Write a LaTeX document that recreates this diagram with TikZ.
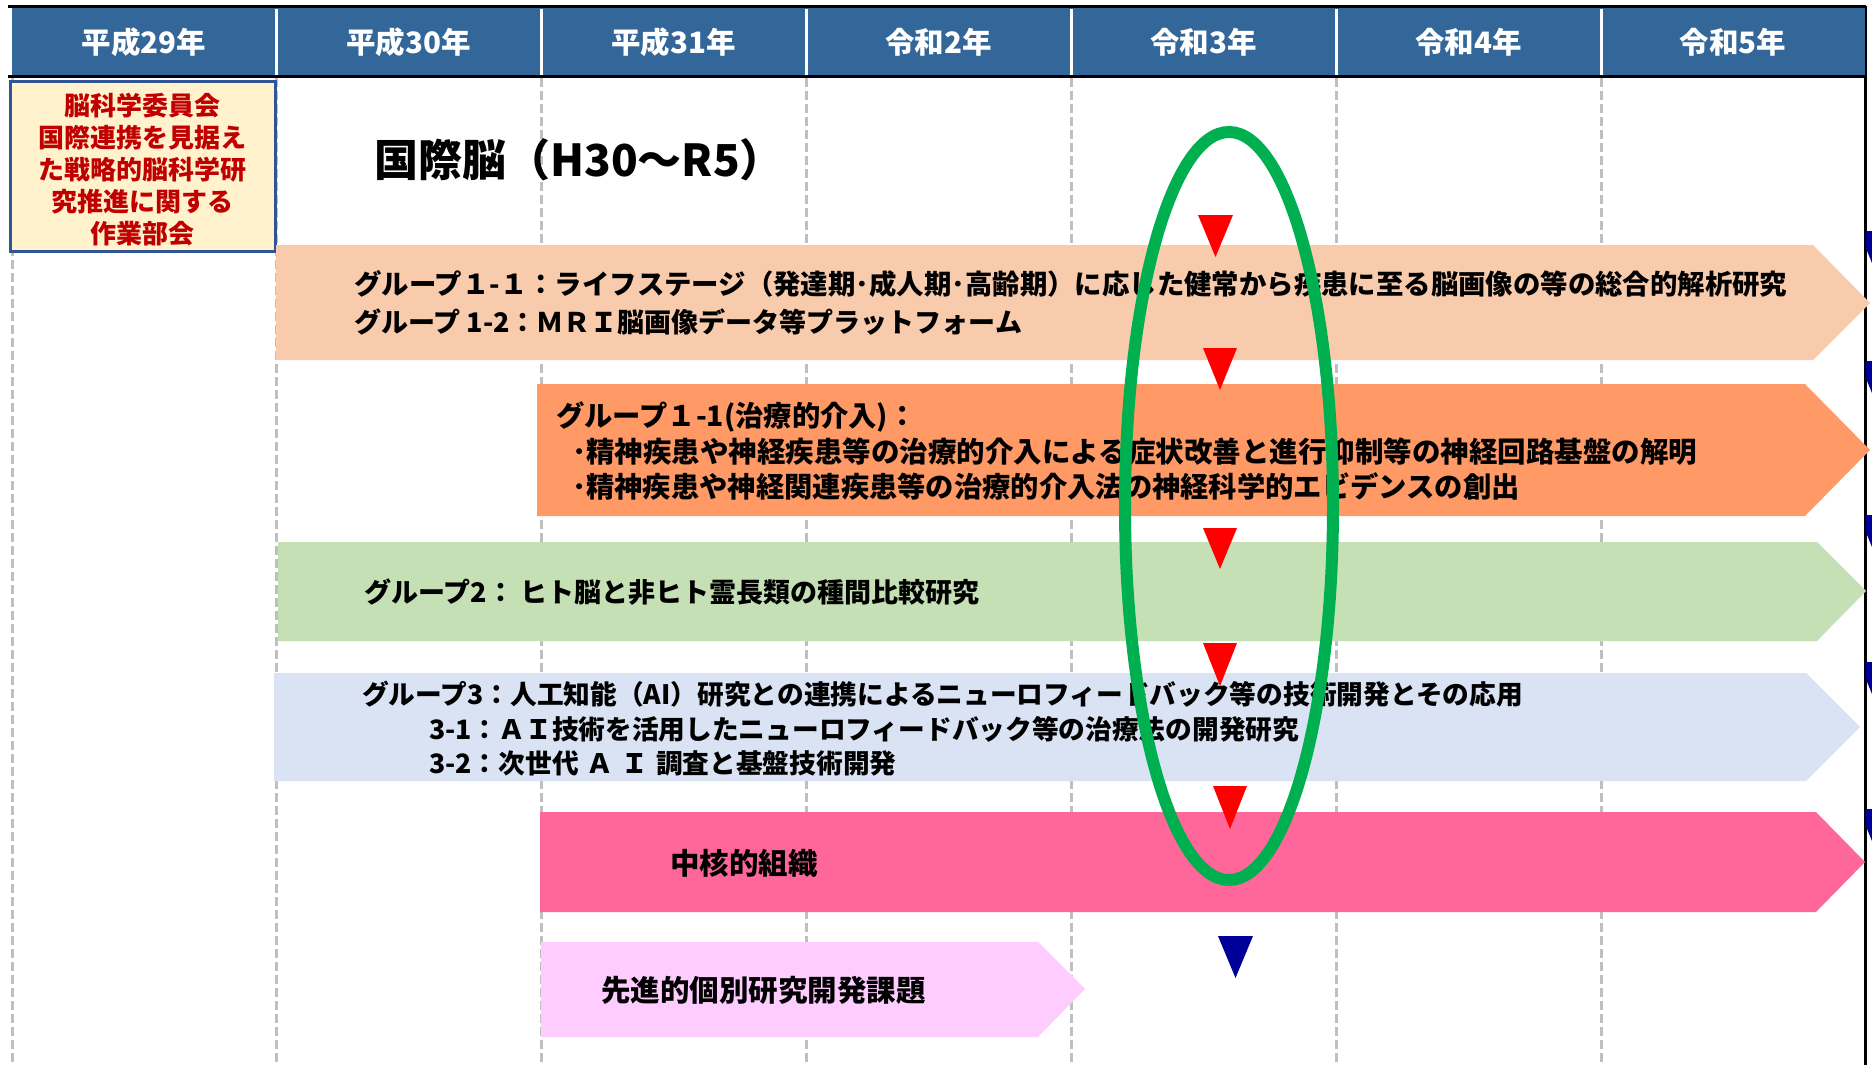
\documentclass[tikz,border=0pt]{standalone}
\usepackage{fontspec}
\setmainfont{Noto Sans CJK JP}
\definecolor{hdrblue}{HTML}{336699}
\definecolor{gridgray}{HTML}{BFBFBF}
\definecolor{boxblue}{HTML}{2F5597}
\definecolor{boxyellow}{HTML}{FFF2CC}
\definecolor{boxred}{HTML}{C00000}
\definecolor{cpeach}{HTML}{F8CBAD}
\definecolor{corange}{HTML}{FF9966}
\definecolor{cgreen}{HTML}{C5E0B4}
\definecolor{clblue}{HTML}{DAE3F3}
\definecolor{cpink}{HTML}{FF6699}
\definecolor{clpink}{HTML}{FFCCFF}
\definecolor{cnavy}{HTML}{000099}
\definecolor{cellipse}{HTML}{00B050}
\begin{document}
\begin{tikzpicture}[x=1pt,y=-1pt,
  hdr/.style={text=white,inner sep=0pt,font=\fontsize{29.5}{32}\selectfont\bfseries},
  bartext/.style={anchor=west,inner sep=0pt,font=\fontsize{27}{32}\selectfont\bfseries},
  gridline/.style={draw=gridgray,line width=3pt,dash pattern=on 9pt off 4pt},
  redtri/.style={fill=red},
  navytri/.style={fill=cnavy},
  boxtext/.style={inner sep=0pt,text=boxred,font=\fontsize{26}{32}\selectfont\bfseries},
]
\useasboundingbox (0,0) rectangle (1872,1065);
\fill[white] (0,0) rectangle (1872,1065);

% grid lines
\foreach \x in {12,276,541,806,1071,1336,1601}
  \draw[gridline] (\x,78) -- (\x,1065);

% right frame line
\draw[line width=3pt] (1865,6) -- (1865,1065);

% header
\fill[hdrblue] (12,8) rectangle (1865,76);
\draw[line width=3pt] (8,7) -- (1866,7);
\draw[line width=3pt] (8,77) -- (1866,77);
\foreach \x in {276,541,806,1071,1336,1601}
  \draw[white,line width=3pt] (\x,9) -- (\x,75);
\node[hdr] (h29) at (144,42) {平成29年};
\node[hdr] (h30) at (408.5,42) {平成30年};
\node[hdr] (h31) at (673.5,42) {平成31年};
\node[hdr] (r2) at (938.5,42) {令和2年};
\node[hdr] (r3) at (1203.5,42) {令和3年};
\node[hdr] (r4) at (1468.5,42) {令和4年};
\node[hdr] (r5) at (1733,42) {令和5年};

% committee box
\fill[boxyellow,draw=boxblue,line width=3pt] (10,82) rectangle (275,251);
\node[boxtext] (c1) at (142,106) {脳科学委員会};
\node[boxtext] (c2) at (142,138) {国際連携を見据え};
\node[boxtext] (c3) at (142,170) {た戦略的脳科学研};
\node[boxtext] (c4) at (142,202) {究推進に関する};
\node[boxtext] (c5) at (142,234) {作業部会};

% title
\node[anchor=west,inner sep=0pt,font=\fontsize{44}{48}\selectfont\bfseries] (title) at (374,160) {国際脳（H30～R5）};

% bars
\fill[cpeach] (276,245) -- (1813,245) -- (1870,303) -- (1813,360) -- (276,360) -- cycle;
\node[bartext,font=\fontsize{27.4}{32}\selectfont\bfseries] (g11) at (354,284) {グループ１-１：ライフステージ（発達期･成人期･高齢期）に応じた健常から疾患に至る脳画像の等の総合的解析研究};
\node[bartext] (g12) at (354,322) {グループ 1-2：ＭＲＩ脳画像データ等プラットフォーム};

\fill[corange] (537,384) -- (1805,384) -- (1870,450) -- (1805,516) -- (537,516) -- cycle;
\node[bartext,font=\fontsize{28.3}{32}\selectfont\bfseries] (o1) at (556,417) {グループ１-1(治療的介入)：};
\node[bartext,font=\fontsize{28.5}{32}\selectfont\bfseries] (o2) at (572,452) {･精神疾患や神経疾患等の治療的介入による症状改善と進行抑制等の神経回路基盤の解明};
\node[bartext,font=\fontsize{28.3}{32}\selectfont\bfseries] (o3) at (572,486) {･精神疾患や神経関連疾患等の治療的介入法の神経科学的エビデンスの創出};

\fill[cgreen] (278,542) -- (1817,542) -- (1866,591) -- (1817,641) -- (278,641) -- cycle;
\node[bartext] (g2) at (364,592) {グループ2： ヒト脳と非ヒト霊長類の種間比較研究};

\fill[clblue] (274,673) -- (1806,673) -- (1860,727) -- (1806,781) -- (274,781) -- cycle;
\node[bartext,font=\fontsize{26.7}{32}\selectfont\bfseries] (g3) at (362,694) {グループ3：人工知能（AI）研究との連携によるニューロフィードバック等の技術開発とその応用};
\node[bartext,font=\fontsize{26.7}{32}\selectfont\bfseries] (g31) at (429,729) {3-1：ＡＩ技術を活用したニューロフィードバック等の治療法の開発研究};
\node[bartext,font=\fontsize{26.7}{32}\selectfont\bfseries] (g32) at (429,763) {3-2：次世代\hspace{0.3em}Ａ\hspace{0.3em}Ｉ\hspace{0.3em}調査と基盤技術開発};

\fill[cpink] (540,812) -- (1816,812) -- (1865,862) -- (1816,912) -- (540,912) -- cycle;
\node[bartext,font=\fontsize{29.5}{32}\selectfont\bfseries] (core) at (670,863) {中核的組織};

\fill[clpink] (541,942) -- (1038,942) -- (1085,989) -- (1038,1037) -- (541,1037) -- cycle;
\node[bartext,font=\fontsize{29.5}{32}\selectfont\bfseries] (adv) at (601,990) {先進的個別研究開発課題};

% red milestone triangles
\fill[redtri] (1198,215) -- (1233,215) -- (1215.5,257) -- cycle;
\fill[redtri] (1203,348) -- (1237,348) -- (1220,390) -- cycle;
\fill[redtri] (1203,528) -- (1237,528) -- (1220,569) -- cycle;
\fill[redtri] (1203,643) -- (1237,643) -- (1220,686) -- cycle;
\fill[redtri] (1213,786) -- (1247,786) -- (1230,829) -- cycle;
\fill[navytri] (1218,936) -- (1253,936) -- (1235.5,978) -- cycle;

% partly visible triangles at right edge
\begin{scope}
\clip (1866,0) rectangle (1872,1065);
\foreach \t in {231,361,515,662,809}
  \fill[navytri] (1859,\t) -- (1893,\t) -- (1876,\t+42) -- cycle;
\end{scope}

% green ellipse
\draw[cellipse,line width=12pt] (1229,506) ellipse [x radius=104, y radius=374];
\end{tikzpicture}
\end{document}
